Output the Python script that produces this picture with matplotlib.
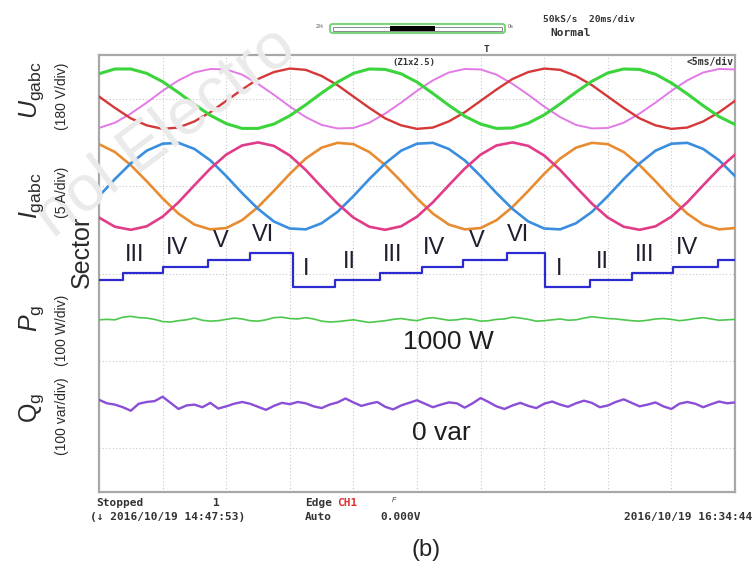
import numpy as np
import matplotlib.pyplot as plt
from matplotlib.patches import FancyBboxPatch, Rectangle

plt.rcParams['font.family'] = ['Liberation Sans', 'DejaVu Sans']
plt.rcParams['mathtext.fontset'] = 'custom'
plt.rcParams['mathtext.rm'] = 'Liberation Sans'
plt.rcParams['mathtext.it'] = 'Liberation Sans:italic'

# traces, one sample every 0.25 div (0..10 div), values in div
u_green = [0.57, 0.68, 0.68, 0.58, 0.39, 0.14, -0.13, -0.38, -0.57, -0.68, -0.68, -0.58, -0.39, -0.14, 0.13, 0.38,
           0.58, 0.68, 0.67, 0.57, 0.38, 0.12, -0.15, -0.40, -0.58, -0.68, -0.67, -0.56, -0.37, -0.12, 0.15, 0.40,
           0.59, 0.68, 0.67, 0.56, 0.36, 0.11, -0.16, -0.41, -0.59]
u_red = [0.05, -0.21, -0.45, -0.61, -0.69, -0.66, -0.52, -0.31, -0.05, 0.21, 0.45, 0.61, 0.69, 0.66, 0.52, 0.31,
         0.05, -0.21, -0.45, -0.61, -0.69, -0.66, -0.52, -0.31, -0.05, 0.21, 0.45, 0.61, 0.69, 0.66, 0.52, 0.31,
         0.05, -0.21, -0.45, -0.61, -0.69, -0.66, -0.52, -0.31, -0.05]
u_pink = [-0.67, -0.55, -0.34, -0.09, 0.18, 0.42, 0.60, 0.68, 0.67, 0.55, 0.34, 0.09, -0.18, -0.42, -0.60, -0.68,
          -0.67, -0.55, -0.34, -0.09, 0.18, 0.42, 0.60, 0.68, 0.67, 0.55, 0.34, 0.09, -0.18, -0.42, -0.60, -0.68,
          -0.67, -0.55, -0.34, -0.09, 0.18, 0.42, 0.60, 0.68, 0.67]
i_orange = [0.96, 0.78, 0.48, 0.11, -0.28, -0.63, -0.88, -0.99, -0.96, -0.78, -0.48, -0.11, 0.28, 0.63, 0.88, 0.99,
            0.96, 0.78, 0.48, 0.11, -0.28, -0.63, -0.88, -0.99, -0.96, -0.78, -0.48, -0.11, 0.28, 0.63, 0.88, 0.99,
            0.96, 0.78, 0.48, 0.11, -0.28, -0.63, -0.88, -0.99, -0.96]
i_blue = [-0.23, 0.16, 0.52, 0.81, 0.97, 0.99, 0.85, 0.59, 0.23, -0.16, -0.52, -0.81, -0.97, -0.99, -0.85, -0.59,
          -0.23, 0.16, 0.52, 0.81, 0.97, 0.99, 0.85, 0.59, 0.23, -0.16, -0.52, -0.81, -0.97, -0.99, -0.85, -0.59,
          -0.23, 0.16, 0.52, 0.81, 0.97, 0.99, 0.85, 0.59, 0.23]
i_pink = [-0.72, -0.93, -1.00, -0.92, -0.70, -0.37, 0.02, 0.40, 0.72, 0.93, 1.00, 0.92, 0.70, 0.37, -0.02, -0.40,
          -0.72, -0.93, -1.00, -0.92, -0.70, -0.37, 0.02, 0.40, 0.72, 0.93, 1.00, 0.92, 0.70, 0.37, -0.02, -0.40,
          -0.72, -0.93, -1.00, -0.92, -0.70, -0.37, 0.02, 0.40, 0.72]

# sector changes (div) and sector number
sector_start = [0, 0.38, 1.0, 1.71, 2.37, 3.05, 3.71, 4.42, 5.08, 5.72, 6.42, 7.01, 7.72, 8.38, 9.03, 9.73]
sector_id = [2, 3, 4, 5, 6, 1, 2, 3, 4, 5, 6, 1, 2, 3, 4, 5]
roman = {1: 'I', 2: 'II', 3: 'III', 4: 'IV', 5: 'V', 6: 'VI'}

# P and Q ripple, one sample every 0.125 div
p_ripple = [0.00, 0.01, 0.00, 0.06, 0.08, 0.05, 0.04, 0.01, -0.04, -0.05, -0.02, 0.00, 0.04, -0.01, -0.03, -0.02,
            0.01, 0.04, 0.02, -0.02, -0.03, 0.00, 0.05, 0.06, 0.03, 0.02, 0.05, 0.02, -0.03, -0.05, -0.04, -0.02,
            0.00, -0.03, -0.06, -0.04, -0.02, 0.01, 0.03, 0.00, -0.02, 0.03, 0.05, 0.02, -0.01, 0.00, 0.03, 0.01,
            -0.03, -0.02, 0.01, 0.02, 0.06, 0.04, 0.01, -0.03, -0.02, 0.00, 0.02, -0.01, 0.00, 0.04, 0.07, 0.05,
            0.03, 0.02, 0.00, -0.02, -0.03, -0.01, 0.02, 0.03, 0.01, -0.02, 0.00, 0.03, 0.05, 0.02, -0.01, 0.00, 0.01]
q_ripple = [0.11, 0.03, 0.00, -0.06, -0.14, 0.02, 0.06, 0.08, 0.18, 0.04, -0.10, -0.02, 0.00, -0.06, 0.04, -0.09,
            -0.04, 0.02, 0.06, 0.02, -0.05, -0.12, -0.03, 0.04, 0.01, 0.06, 0.03, -0.04, -0.08, 0.00, 0.05, 0.14,
            0.05, -0.03, 0.02, 0.06, -0.05, -0.11, -0.02, 0.04, 0.10, 0.02, -0.06, 0.00, 0.05, 0.03, -0.07, 0.03,
            0.15, 0.06, -0.04, -0.10, -0.02, 0.04, -0.03, -0.08, 0.02, 0.07, 0.00, -0.05, 0.03, 0.09, 0.04, -0.06,
            -0.02, 0.06, 0.12, 0.04, -0.04, 0.00, 0.05, -0.04, -0.10, 0.02, 0.06, 0.02, -0.06, 0.01, 0.07, 0.03, 0.05]

# channel positions on screen (div from bottom)
U_POS, I_POS, P_POS, Q_POS = 9.0, 7.0, 3.94, 2.0
SEC_BASE, SEC_STEP = 4.53, 0.157

W, H = 756, 568
fig = plt.figure(figsize=(W / 100, H / 100), dpi=100)
fx = lambda px: px / W
fy = lambda py: 1 - py / H

# faint watermark behind everything
fig.text(fx(166), fy(132), 'nol Electro', fontsize=47, color='#eaeaea', rotation=37,
         ha='center', va='center', zorder=0)

ax = fig.add_axes([fx(99), fy(492), fx(735) - fx(99), fy(55) - fy(492)])
ax.patch.set_alpha(0)
ax.set_xlim(0, 10)
ax.set_ylim(0, 10)
ax.set_xticks([])
ax.set_yticks([])
for s in ax.spines.values():
    s.set_color('#a8a8a8')
    s.set_linewidth(1.6)
for gx in range(1, 10):
    ax.axvline(gx, color='#c8c8c8', lw=0.8, ls=(0, (1, 2)), zorder=1)
for gy in [1, 3, 5, 7, 9]:
    ax.axhline(gy, color='#c8c8c8', lw=0.8, ls=(0, (1, 2)), zorder=1)

t = np.linspace(0, 10, len(u_green))
ax.plot(t, U_POS + np.array(u_pink), color='#e27ae6', lw=1.4, zorder=3)
ax.plot(t, U_POS + np.array(u_red), color='#d43838', lw=1.7, zorder=3)
ax.plot(t, U_POS + np.array(u_green), color='#3cd43c', lw=2.2, zorder=3)
ax.plot(t, I_POS + np.array(i_orange), color='#e88c32', lw=1.9, zorder=3)
ax.plot(t, I_POS + np.array(i_blue), color='#3a8ee0', lw=1.9, zorder=3)
ax.plot(t, I_POS + np.array(i_pink), color='#e03c88', lw=1.9, zorder=3)

levels = [SEC_BASE + SEC_STEP * s for s in sector_id]
ax.step(sector_start + [10], levels + [levels[-1]], where='post', color='#2b2bd0', lw=1.6, zorder=3)
for k in range(1, len(sector_id) - 1):
    mid = (sector_start[k] + sector_start[k + 1]) / 2 - 0.13
    ax.text(mid, levels[k] + 0.42, roman[sector_id[k]], fontsize=17, color='#1e1e2e',
            ha='center', va='center', zorder=4)

tp = np.linspace(0, 10, len(p_ripple))
ax.plot(tp, P_POS + np.array(p_ripple), color='#4cc84c', lw=1.2, zorder=3)
ax.plot(tp, Q_POS + np.array(q_ripple), color='#8a4fd6', lw=1.7, zorder=3)

ax.text(5.5, 3.43, '1000 W', fontsize=19, color='#1e1e1e', ha='center', va='center')
ax.text(5.38, 1.35, '0 var', fontsize=19, color='#1e1e1e', ha='center', va='center')

# left labels
lab = dict(rotation=90, ha='center', va='center', color='#2a2a2a')
fig.text(fx(32), fy(90), r'$U_{\rm gabc}$', fontsize=18, **lab)
fig.text(fx(62), fy(96), '(180 V/div)', fontsize=10, **lab)
fig.text(fx(32), fy(196), r'$I_{\rm gabc}$', fontsize=18, **lab)
fig.text(fx(62), fy(192), '(5 A/div)', fontsize=10, **lab)
fig.text(fx(82), fy(252), 'Sector', fontsize=18, **lab)
fig.text(fx(32), fy(318), r'$P_{\rm g}$', fontsize=18, **lab)
fig.text(fx(62), fy(330), '(100 W/div)', fontsize=10, **lab)
fig.text(fx(32), fy(408), r'Q$_{\rm g}$', fontsize=18, **lab)
fig.text(fx(62), fy(416), '(100 var/div)', fontsize=10, **lab)

# scope status texts
st = dict(fontsize=8, color='#333333', family='DejaVu Sans Mono', weight='bold')
sm = dict(st, fontsize=6.8)
fig.text(fx(543), fy(19), '50kS/s  20ms/div', va='center', **sm)
fig.text(fx(550), fy(33), 'Normal', va='center', **st)
fig.text(fx(316), fy(27), '2%', va='center', fontsize=4, color='#555')
fig.text(fx(508), fy(27), '0s', va='center', fontsize=4, color='#555')
fig.text(fx(487), fy(49), 'T', ha='center', va='center', **sm)
fig.text(fx(392), fy(62), '(Z1x2.5)', va='center', **dict(st, fontsize=6.4))
fig.text(fx(734), fy(62), '<5ms/div', ha='right', va='center', **dict(st, fontsize=7))
fig.text(fx(96), fy(503), 'Stopped', va='center', **st)
fig.text(fx(213), fy(503), '1', va='center', **st)
fig.text(fx(90), fy(517), '(\u2193 2016/10/19 14:47:53)', va='center', **st)
fig.text(fx(305), fy(503), 'Edge', va='center', **st)
fig.text(fx(337), fy(503), 'CH1', va='center', **dict(st, color='#e03030'))
fig.text(fx(305), fy(517), 'Auto', va='center', **st)
fig.text(fx(392), fy(500), 'F', va='center', fontsize=5, style='italic', color='#3a3a3a')
fig.text(fx(380), fy(517), '0.000V', va='center', **st)
fig.text(fx(752), fy(517), '2016/10/19 16:34:44', ha='right', va='center', **st)

# zoom position bar at the top
fig.patches.append(FancyBboxPatch((fx(330), fy(33)), fx(505) - fx(330), fy(24) - fy(33),
                                  boxstyle='round,pad=0,rounding_size=0.004', transform=fig.transFigure,
                                  fc='white', ec='#7cd47c', lw=1.5))
fig.patches.append(Rectangle((fx(333), fy(30.5)), fx(502) - fx(333), fy(26.5) - fy(30.5),
                             transform=fig.transFigure, fc='none', ec='#8a8a8a', lw=0.7))
fig.patches.append(Rectangle((fx(390), fy(31)), fx(435) - fx(390), fy(26) - fy(31),
                             transform=fig.transFigure, fc='black', ec='none'))

fig.text(fx(426), fy(550), '(b)', fontsize=17, ha='center', va='center', color='#222')

fig.savefig('out.png', dpi=100)
